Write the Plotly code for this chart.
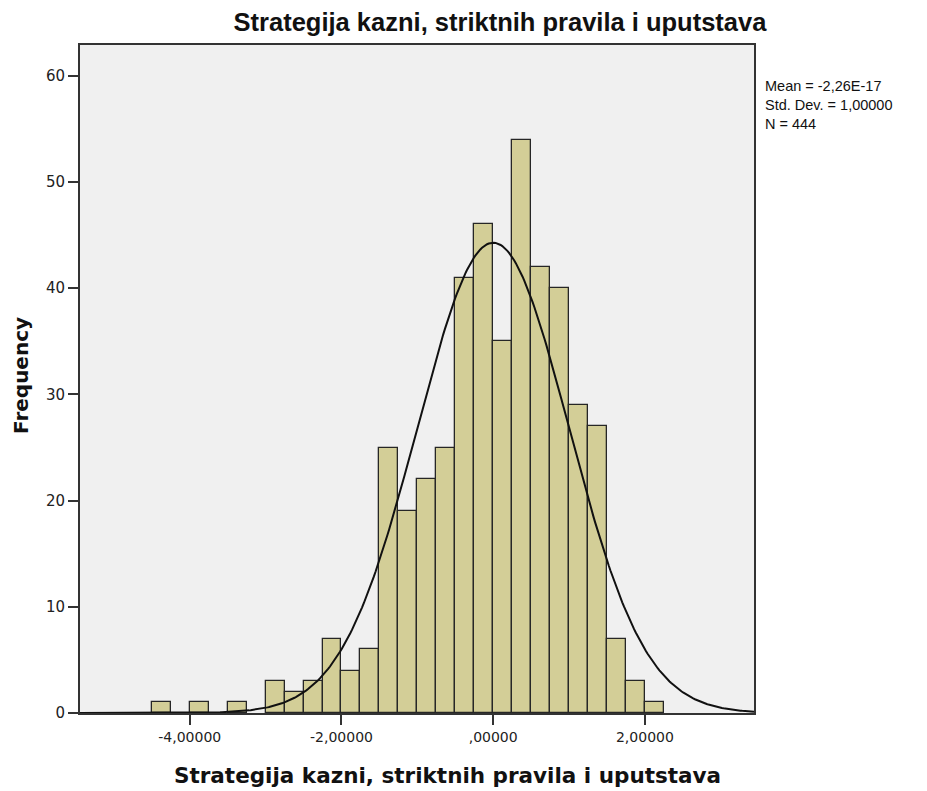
import numpy as np
import plotly.graph_objects as go

# Histogram data (bin left edges, bin width 0.25) and frequencies
bin_left = [-4.5, -4.0, -3.5, -3.0, -2.75, -2.5, -2.25, -2.0, -1.75, -1.5, -1.25, -1.0,
            -0.75, -0.5, -0.25, 0.0, 0.25, 0.5, 0.75, 1.0, 1.25, 1.5, 1.75, 2.0]
counts = [1, 1, 1, 3, 2, 3, 7, 4, 6, 25, 19, 22,
          25, 41, 46, 35, 54, 42, 40, 29, 27, 7, 3, 1]
bin_width = 0.25

# Summary statistics (for the fitted normal curve)
mean_val = -2.26e-17
std_val = 1.0
n_val = 444
stats_lines = ["Mean = -2,26E-17", "Std. Dev. = 1,00000", "N = 444"]

x_tick_vals = [-4, -2, 0, 2]
x_tick_text = ["-4,00000", "-2,00000", ",00000", "2,00000"]
y_tick_vals = [0, 10, 20, 30, 40, 50, 60]

x_range = [-5.447, 3.438]
y_range = [0, 62.9]

title_text = "Strategija kazni, striktnih pravila i uputstava"
x_title = "Strategija kazni, striktnih pravila i uputstava"
y_title = "Frequency"

centers = [b + bin_width / 2 for b in bin_left]

xs = np.linspace(x_range[0], x_range[1], 400)
ys = n_val * bin_width / (std_val * np.sqrt(2 * np.pi)) * np.exp(-0.5 * ((xs - mean_val) / std_val) ** 2)

fig = go.Figure()
fig.add_trace(go.Bar(
    x=centers, y=counts, width=bin_width,
    marker=dict(color="rgb(211,206,151)", line=dict(color="#262626", width=1.3)),
    showlegend=False, hoverinfo="x+y",
))
fig.add_trace(go.Scatter(
    x=xs, y=ys, mode="lines", line=dict(color="#111111", width=2),
    showlegend=False, hoverinfo="skip",
))

L, R, T, B = 80, 173, 45, 78
W, H = 927, 791
pw, ph = W - L - R, H - T - B


def px_x(x):
    return (x - L) / pw


def px_y(y):
    return (H - B - y) / ph


annotations = [
    dict(text="<b>" + x_title + "</b>", xref="paper", yref="paper",
         x=px_x(447), y=px_y(776), xanchor="center", yanchor="middle", showarrow=False,
         font=dict(family="DejaVu Sans, Verdana, sans-serif", size=21.5, color="#111111")),
    dict(text="<b>" + y_title + "</b>", xref="paper", yref="paper", textangle=-90,
         x=px_x(21), y=px_y(376), xanchor="center", yanchor="middle", showarrow=False,
         font=dict(family="DejaVu Sans, Verdana, sans-serif", size=20, color="#111111")),
    dict(text="<br>".join(stats_lines), xref="paper", yref="paper",
         x=px_x(764), y=px_y(77), xanchor="left", yanchor="top", align="left",
         showarrow=False, borderpad=0,
         font=dict(family="Liberation Sans, Arial, sans-serif", size=14.5, color="#111111")),
]

fig.update_layout(
    width=W, height=H,
    margin=dict(l=L, r=R, t=T, b=B),
    paper_bgcolor="white",
    plot_bgcolor="#F0F0F0",
    bargap=0,
    title=dict(
        text="<b>" + title_text + "</b>",
        x=500 / W, xanchor="center", y=1 - 22 / H, yanchor="middle",
        font=dict(family="Liberation Sans, Arial, sans-serif", size=25.5, color="#111111"),
    ),
    xaxis=dict(
        range=x_range, tickvals=x_tick_vals, ticktext=x_tick_text,
        showgrid=False, zeroline=False,
        ticks="outside", ticklen=10, tickwidth=1.5, tickcolor="#333333",
        showline=True, linecolor="#333333", linewidth=2, mirror=True,
        tickfont=dict(family="DejaVu Sans, Verdana, sans-serif", size=14, color="#222222"),
    ),
    yaxis=dict(
        range=y_range, tickvals=y_tick_vals,
        showgrid=False, zeroline=False,
        ticks="outside", ticklen=10, tickwidth=1.5, tickcolor="#333333",
        showline=True, linecolor="#333333", linewidth=2, mirror=True,
        tickfont=dict(family="DejaVu Sans, Verdana, sans-serif", size=15, color="#222222"),
    ),
    annotations=annotations,
)

fig.write_html("out.html")
